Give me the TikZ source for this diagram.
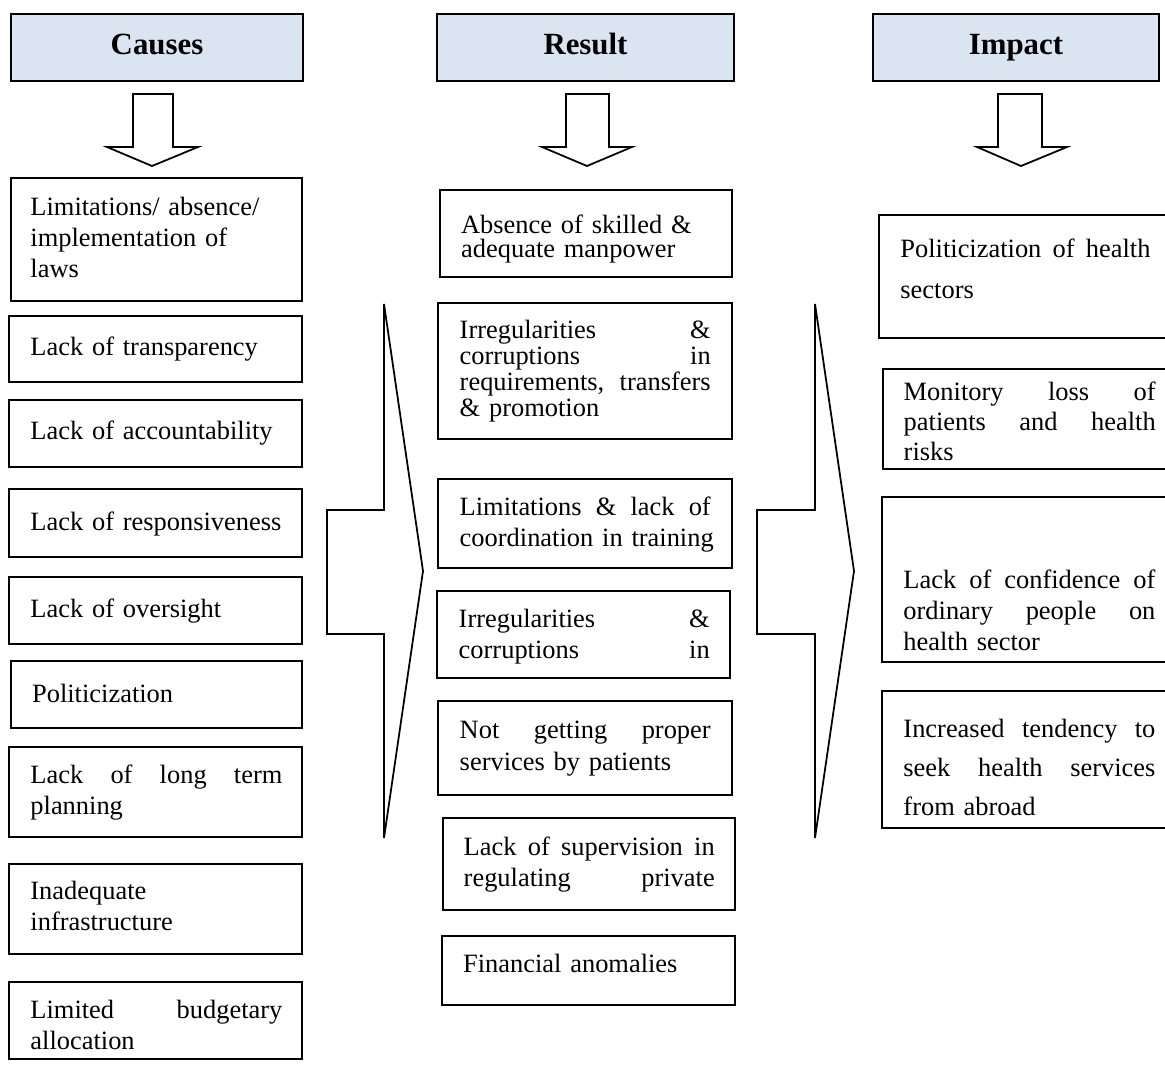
\documentclass[tikz,border=0pt]{standalone}
\usepackage{fontspec}
\setmainfont{Liberation Serif}
\usetikzlibrary{fit}
\definecolor{headfill}{HTML}{DBE5F1}
\newcommand{\fstrut}{\rule{0pt}{9.5pt}}
\begin{document}
\begin{tikzpicture}[x=0.454pt,y=-0.454pt,
  box/.style={draw=black, line width=0.8pt, inner sep=0pt, rectangle},
  head/.style={box, fill=headfill, minimum height=30.4pt, font=\fontsize{14}{16}\selectfont\bfseries},
  txt/.style={inner sep=0pt, anchor=north west, align=left, font=\fontsize{12}{14.1}\selectfont},
  lw/.style={text width=114.4pt},
  mw/.style={text width=113.95pt},
  tight/.style={font=\fontsize{12}{11.2}\selectfont},
  tighter/.style={font=\fontsize{12}{11.8}\selectfont},
  mid/.style={font=\fontsize{12}{14.3}\selectfont},
  loose/.style={font=\fontsize{12}{18.6}\selectfont},
  blk/.style={draw=black, line width=0.8pt, fill=white, line join=miter}
]
\useasboundingbox (0,0) rectangle (1165,1064);
\clip (0,0) rectangle (1165,1064);

% headers
\node[head, minimum width=132.6pt] (hC) at (157,47.5) {\strut Causes};
\node[head, minimum width=134.8pt] (hR) at (585.5,47.5) {\strut Result};
\node[head, minimum width=129.8pt] (hI) at (1016,47.5) {\strut Impact};

% down block arrows
\draw[blk] (133,94) -- (173,94) -- (173,147) -- (198,147) -- (152,166) -- (107,147) -- (133,147) -- cycle;
\draw[blk] (566,94) -- (609,94) -- (609,147) -- (632,147) -- (587,166) -- (542,147) -- (566,147) -- cycle;
\draw[blk] (998,94) -- (1042,94) -- (1042,147) -- (1067,147) -- (1021,166) -- (977,147) -- (998,147) -- cycle;

% chevron arrows
\draw[blk] (384,304) -- (423,571) -- (384,838) -- (384,634) -- (327,634) -- (327,510) -- (384,510) -- cycle;
\draw[blk] (815,304) -- (854,571) -- (815,838) -- (815,634) -- (757,634) -- (757,510) -- (815,510) -- cycle;

% Causes column
\node[box, fit={(10.7,178.3) (302.3,300.7)}] (L1) {};
\node[txt, lw] (L1t) at (30,194) {\fstrut Limitations/ absence/\\implementation of\\laws};
\node[box, fit={(9.3,315.7) (302,382.3)}] (L2) {};
\node[txt, lw] (L2t) at (30,334) {\fstrut Lack of transparency};
\node[box, fit={(9.3,400) (302,466.7)}] (L3) {};
\node[txt, lw] (L3t) at (30,418.3) {\fstrut Lack of accountability};
\node[box, fit={(9.3,489.3) (302,556.7)}] (L4) {};
\node[txt, lw] (L4t) at (30,509) {\fstrut Lack of responsiveness};
\node[box, fit={(9.3,576.7) (302,644)}] (L5) {};
\node[txt, lw] (L5t) at (30,596.3) {\fstrut Lack of oversight};
\node[box, fit={(11,661) (302,728.3)}] (L6) {};
\node[txt, lw] (L6t) at (31.7,681.3) {\fstrut Politicization};
\node[box, fit={(9.3,747.3) (302,836.7)}] (L7) {};
\node[txt, lw] (L7t) at (30,762.3) {\fstrut Lack\hfill of\hfill long\hfill term\\planning};
\node[box, fit={(9.3,864) (302,954)}] (L8) {};
\node[txt, lw] (L8t) at (30,878.3) {\fstrut Inadequate\\infrastructure};
\node[box, fit={(9.3,981.7) (302,1059)}] (L9) {};
\node[txt, lw] (L9t) at (30,997.3) {\fstrut Limited\hfill budgetary\\allocation};

% Result column
\node[box, fit={(440,190) (731.7,277.3)}] (M1) {};
\node[txt, mw, tight] (M1t) at (460.7,211.7) {\fstrut Absence of skilled \&\\adequate manpower};
\node[box, fit={(438.3,302.7) (732.3,439)}] (M2) {};
\node[txt, mw, tighter] (M2t) at (459.3,317.3) {\fstrut Irregularities\hfill\&\\corruptions\hfill in\\requirements,\hfill transfers\\\& promotion};
\node[box, fit={(438.3,479) (732.3,568.3)}] (M3) {};
\node[txt, mw, mid] (M3t) at (459.3,494) {\fstrut Limitations\hfill\&\hfill lack\hfill of\\\mbox{coordination in training}};
\node[box, fit={(437.3,590.7) (730,678.3)}] (M4) {};
\node[txt, mw, mid] (M4t) at (458.3,605.7) {\fstrut Irregularities\hfill\&\\corruptions\hfill in};
\node[box, fit={(438.3,700.7) (732.3,795)}] (M5) {};
\node[txt, mw, mid] (M5t) at (459.3,717.3) {\fstrut Not\hfill getting\hfill proper\\services by patients};
\node[box, fit={(442.7,818.3) (735,910)}] (M6) {};
\node[txt, mw, mid] (M6t) at (463.3,834) {\fstrut Lack\hfill of\hfill supervision\hfill in\\regulating\hfill private};
\node[box, fit={(441.7,936) (735,1005)}] (M7) {};
\node[txt, mw, mid] (M7t) at (462.7,950.7) {\fstrut Financial anomalies};

% Impact column
\node[box, fit={(879.3,215) (1172,337.7)}] (R1) {};
\node[txt, text width=113.5pt, loose] (R1t) at (900,236.3) {\fstrut Politicization\hfill of\hfill health\\sectors};
\node[box, fit={(882.7,369.3) (1172,469)}] (R2) {};
\node[txt, lw, font=\fontsize{12}{13.6}\selectfont] (R2t) at (903.3,379) {\fstrut Monitory\hfill loss\hfill of\\patients\hfill and\hfill health\\risks};
\node[box, fit={(882,497) (1172,662)}] (R3) {};
\node[txt, lw] (R3t) at (903,567) {\fstrut Lack\hfill of\hfill confidence\hfill of\\ordinary\hfill people\hfill on\\health sector};
\node[box, fit={(882,691) (1172,828)}] (R4) {};
\node[txt, lw, font=\fontsize{12}{17.7}\selectfont] (R4t) at (903,716) {\fstrut Increased\hfill tendency\hfill to\\seek\hfill health\hfill services\\from abroad};
\end{tikzpicture}
\end{document}
